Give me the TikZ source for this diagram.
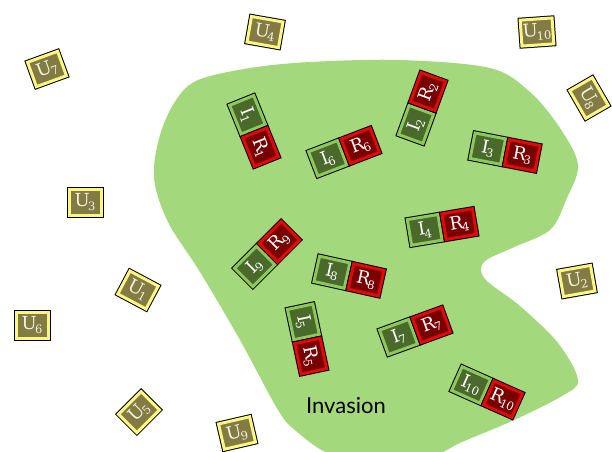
\documentclass[tikz,border=0pt]{standalone}
\usepackage{fontspec}
\newfontfamily\slab{DejaVu Serif}
\newfontfamily\gill{Lato}
\definecolor{blob}{RGB}{163,217,124}
\definecolor{ulight}{RGB}{252,246,130}
\definecolor{udark}{RGB}{130,124,68}
\definecolor{utext}{RGB}{245,243,225}
\definecolor{ilight}{RGB}{140,200,92}
\definecolor{idark}{RGB}{74,106,44}
\definecolor{rlight}{RGB}{228,8,8}
\definecolor{rdark}{RGB}{120,0,0}
\newcommand\subn[1]{\kern-1.5pt\raisebox{-0.35ex}{\fontsize{11.5}{11.5}\selectfont #1}}
\newcommand\cellfont{\fontsize{18}{18}\selectfont\slab}
\tikzset{
  cell/.style={minimum width=31pt, minimum height=26pt, inner sep=0pt,
    line width=3pt, text=white, font=\cellfont,
    preaction={draw=black, line width=5pt}},
  ucell/.style={cell, minimum width=32pt, fill=udark, draw=ulight, text=utext},
  icell/.style={cell, fill=idark, draw=ilight},
  rcell/.style={cell, fill=rdark, draw=rlight},
}
\newcommand\pair[4]{%
  \begin{scope}[shift={(#1,#2)}, rotate=#3, transform shape]
    \node[icell] (I#4) at (-17.5,0) {I\subn{#4}};
    \node[rcell] (R#4) at (17.5,0) {R\subn{#4}};
  \end{scope}}
\begin{document}
\begin{tikzpicture}[x=1pt,y=-1pt]
\useasboundingbox (0,0) rectangle (612,451);
\clip (0,0) rectangle (612,451);
\fill[blob] plot[smooth cycle, tension=0.55] coordinates {
 (198,80) (250,68) (310,62) (400,60) (490,68) (530,92) (560,128) (578,165)
 (566,200) (550,230) (512,248) (484,262) (485,279) (520,306) (558,343)
 (578,380) (562,396) (512,421) (462,442) (432,456) (380,462) (330,454)
 (296,431) (278,410) (240,340) (200,272) (168,222) (154,178) (160,135)
 (176,100)};
\node[font=\gill\fontsize{22}{22}\selectfont] (inv) at (346,406) {Invasion};
\pair{254}{131}{-68}{1}
\pair{422}{108}{70}{2}
\pair{505}{152}{-11}{3}
\pair{442}{227}{9.5}{4}
\pair{307}{339}{-78}{5}
\pair{344}{152}{21}{6}
\pair{415}{331}{20}{7}
\pair{349}{276}{-12.5}{8}
\pair{267}{254}{45}{9}
\pair{487}{392}{-24}{10}
\node[ucell, rotate=-28] (U1) at (138,290) {U\subn{1}};
\node[ucell, rotate=10] (U2) at (577,281) {U\subn{2}};
\node[ucell] (U3) at (85,202) {U\subn{3}};
\node[ucell, rotate=-10] (U4) at (265,32) {U\subn{4}};
\node[ucell, rotate=45] (U5) at (139,412) {U\subn{5}};
\node[ucell] (U6) at (32,325) {U\subn{6}};
\node[ucell, rotate=20] (U7) at (47,69) {U\subn{7}};
\node[ucell, rotate=-60] (U8) at (589,98) {U\subn{8}};
\node[ucell, rotate=13] (U9) at (237,433) {U\subn{9}};
\node[ucell, rotate=4] (U10) at (537,32) {U\subn{10}};
\end{tikzpicture}
\end{document}
